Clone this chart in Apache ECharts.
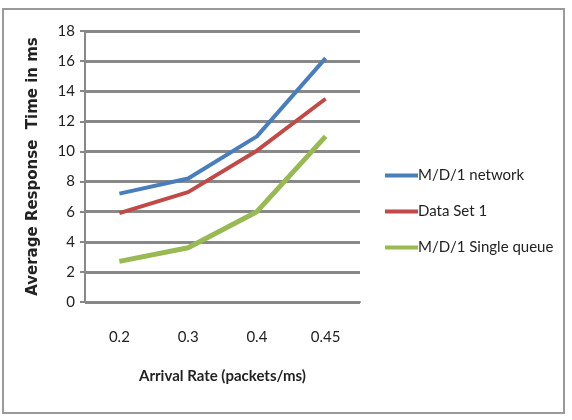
<!DOCTYPE html>
<html lang="en">
<head>
    <meta charset="UTF-8"/>
    <title>response time</title>
    <script src="https://cdn.jsdelivr.net/npm/echarts@6/dist/echarts.min.js"></script>
</head>
<body style="margin:0">
<div id="main" style="width:572px;height:420px;"></div>

<script type="text/javascript">
    var rates = ['0.2', '0.3', '0.4', '0.45'];
    var md1Network = [7.2, 8.2, 11.0, 16.2];
    var dataSet1 = [5.9, 7.3, 10.05, 13.5];
    var md1Single = [2.7, 3.6, 6.0, 11.0];

    var font = 'Lato, "Liberation Sans", sans-serif';
    var myChart = echarts.init(document.getElementById('main'));
    var option = {
        animation: false,
        backgroundColor: '#fff',
        graphic: [{
            type: 'rect',
            shape: {x: 3, y: 9, width: 561, height: 404},
            style: {fill: 'none', stroke: '#9a9a9a', lineWidth: 2}
        }],
        grid: {left: 85, right: 212, top: 31, bottom: 118},
        legend: {
            orient: 'vertical',
            left: 380,
            top: 163,
            itemGap: 21,
            itemWidth: 33,
            itemHeight: 4,
            icon: 'rect',
            textStyle: {fontFamily: font, fontSize: 15, color: '#222', padding: [0, 0, 0, -5]},
            data: ['M/D/1 network', 'Data Set 1', 'M/D/1 Single queue']
        },
        xAxis: {
            type: 'category',
            data: rates,
            name: 'Arrival Rate (packets/ms)',
            nameLocation: 'middle',
            nameGap: 67,
            nameTextStyle: {fontFamily: font, fontSize: 15, fontWeight: 'bold', color: '#222'},
            axisLine: {lineStyle: {color: '#888', width: 2}},
            axisTick: {lineStyle: {color: '#888', width: 2}, length: 5},
            axisLabel: {fontFamily: font, fontSize: 15, color: '#222', margin: 28}
        },
        yAxis: {
            type: 'value',
            min: 0,
            max: 18,
            interval: 2,
            name: 'Average Response  Time in ms',
            nameLocation: 'middle',
            nameGap: 44,
            nameTextStyle: {fontFamily: 'DejaVu Sans, sans-serif', fontSize: 15, fontWeight: 'bold', color: '#222'},
            axisLine: {show: true, lineStyle: {color: '#888', width: 2}},
            axisTick: {show: true, lineStyle: {color: '#888', width: 2}, length: 5},
            axisLabel: {fontFamily: font, fontSize: 15, color: '#222', margin: 10},
            splitLine: {lineStyle: {color: '#888', width: 3}}
        },
        series: [
            {name: 'M/D/1 network', type: 'line', data: md1Network, symbol: 'none',
                itemStyle: {color: '#4a7ebb'}, lineStyle: {color: '#4a7ebb', width: 4}},
            {name: 'Data Set 1', type: 'line', data: dataSet1, symbol: 'none',
                itemStyle: {color: '#be4b48'}, lineStyle: {color: '#be4b48', width: 4}},
            {name: 'M/D/1 Single queue', type: 'line', data: md1Single, symbol: 'none',
                itemStyle: {color: '#98b954'}, lineStyle: {color: '#98b954', width: 5}}
        ]
    };
    myChart.setOption(option);
</script>
</body>
</html>
